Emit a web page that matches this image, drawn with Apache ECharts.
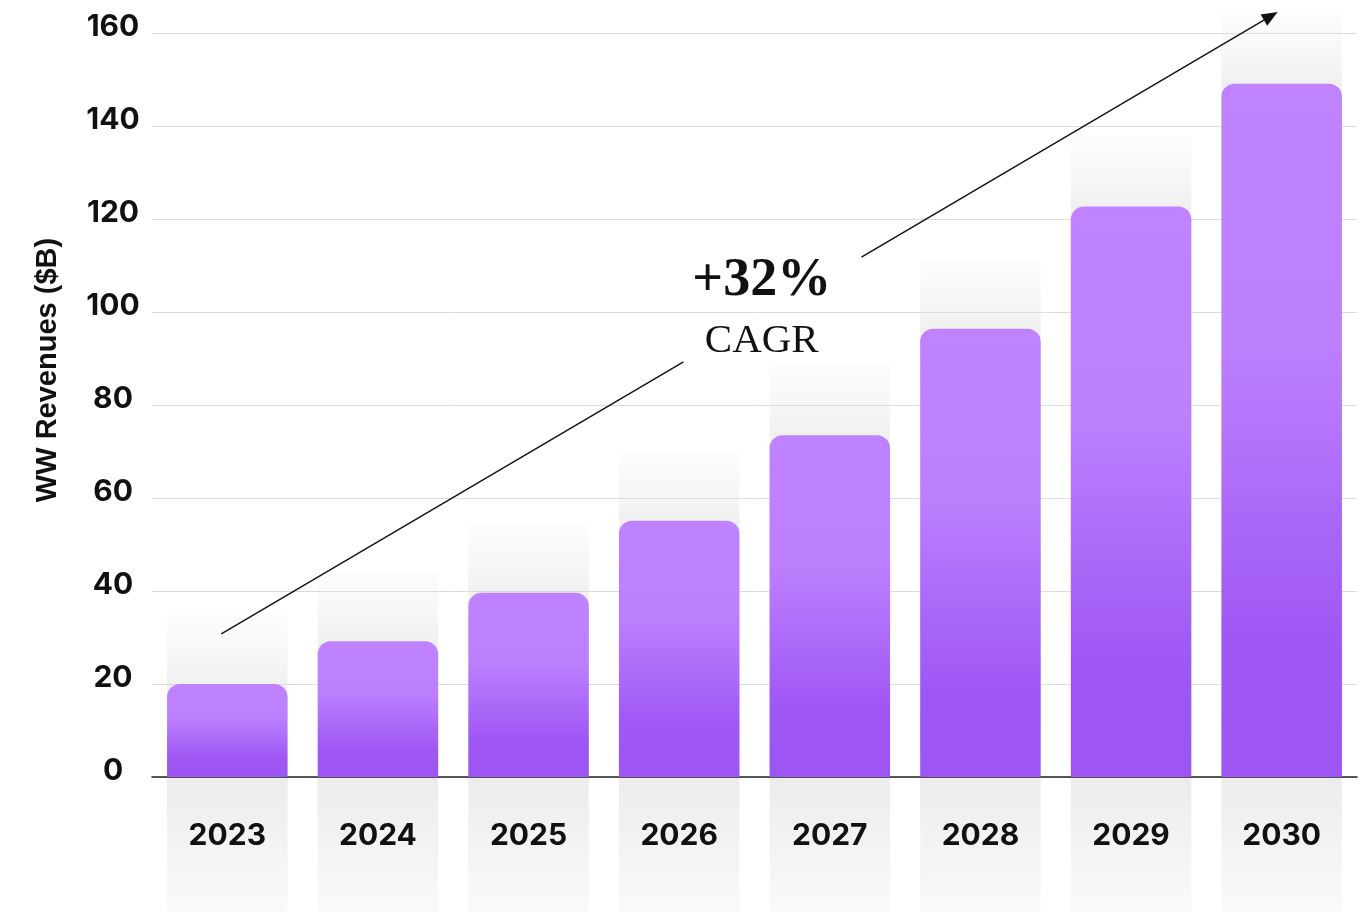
<!DOCTYPE html>
<html>
<head>
<meta charset="utf-8">
<title>WW Revenues</title>
<script src="https://cdn.jsdelivr.net/npm/echarts@6/dist/echarts.min.js"></script>
<style>
  html, body { margin: 0; padding: 0; background: #ffffff; }
  #chart { width: 1368px; height: 912px; }
</style>
</head>
<body>
<div id="chart"></div>
<script>
// Worldwide revenues by year, $B
const years = ['2023', '2024', '2025', '2026', '2027', '2028', '2029', '2030'];
const revenues = [20, 29.2, 39.6, 55.1, 73.5, 96.4, 122.7, 149.1];
const yTicks = [0, 20, 40, 60, 80, 100, 120, 140, 160];
const axisTitle = 'WW Revenues ($B)';
const cagrValue = '+32%';
const cagrLabel = 'CAGR';

// Growth arrow endpoints in data space: [category index, value]
const arrowStart = [0, 30.8];
const arrowEnd = [7, 164.5];

const BAR_RATIO = 0.8;    // bar width as a share of the category band
const HALO_EXTRA = 15;    // soft grey halo above each bar, in value units

const chart = echarts.init(document.getElementById('chart'), null, { renderer: 'canvas' });

const numFont = 'Inter, "Noto Sans", sans-serif';

const barGradient = new echarts.graphic.LinearGradient(0, 0, 0, 1, [
  { offset: 0, color: '#bf83ff' },
  { offset: 0.38, color: '#bc7ffe' },
  { offset: 0.8, color: '#9f57f4' },
  { offset: 1, color: '#9c54f3' }
]);

function renderHalo(params, api) {
  const i = api.value(0);
  const v = api.value(1);
  const base = api.coord([i, 0]);
  const top = api.coord([i, v + HALO_EXTRA]);
  const barTop = api.coord([i, v]);
  const w = api.size([1, 0])[0] * BAR_RATIO;
  const x = base[0] - w / 2;
  const bottom = api.getHeight();
  const span = base[1] - top[1];
  const stop = Math.min(1, Math.max(0, (barTop[1] - top[1]) / span));
  return {
    type: 'group',
    children: [
      {
        type: 'rect',
        shape: { x: x, y: top[1], width: w, height: span },
        style: {
          fill: new echarts.graphic.LinearGradient(0, 0, 0, 1, [
            { offset: 0, color: 'rgba(250,250,250,0.5)' },
            { offset: stop, color: '#f0f0f0' },
            { offset: 1, color: '#f0f0f0' }
          ])
        }
      },
      {
        type: 'rect',
        shape: { x: x, y: base[1], width: w, height: bottom - base[1] },
        style: {
          fill: new echarts.graphic.LinearGradient(0, 0, 0, 1, [
            { offset: 0, color: '#ececec' },
            { offset: 1, color: '#fafafa' }
          ])
        }
      }
    ]
  };
}

chart.setOption({
  animation: false,
  backgroundColor: '#ffffff',
  grid: { left: 152, right: 11, top: 33, bottom: 135, containLabel: false },
  xAxis: {
    type: 'category',
    data: years,
    z: 1,
    axisLine: { show: true, lineStyle: { color: '#222222', width: 1.6 } },
    axisTick: { show: false },
    axisLabel: {
      margin: 44,
      color: '#111111',
      fontFamily: numFont,
      fontWeight: 700,
      fontSize: 30
    },
    splitLine: { show: false }
  },
  yAxis: {
    type: 'value',
    min: yTicks[0],
    max: yTicks[yTicks.length - 1],
    interval: yTicks[1] - yTicks[0],
    z: 1,
    axisLine: { show: false },
    axisTick: { show: false },
    axisLabel: {
      margin: 39,
      align: 'center',
      verticalAlign: 'bottom',
      lineHeight: 12,
      color: '#111111',
      fontFamily: numFont,
      fontWeight: 700,
      fontSize: 30
    },
    splitLine: { show: true, lineStyle: { color: '#dcdcdc', width: 1 } }
  },
  series: [
    {
      name: 'halo',
      type: 'custom',
      z: 0,
      clip: false,
      silent: true,
      renderItem: renderHalo,
      encode: { x: 0, y: 1 },
      data: revenues.map((v, i) => [i, v])
    },
    {
      name: 'Revenue',
      type: 'bar',
      z: 2,
      barWidth: (BAR_RATIO * 100) + '%',
      itemStyle: { color: barGradient, borderRadius: [13, 13, 0, 0] },
      data: revenues
    }
  ]
});

// Growth arrow with a break for the CAGR callout, plus the rotated axis title
const p0 = chart.convertToPixel({ gridIndex: 0 }, arrowStart);
const p1 = chart.convertToPixel({ gridIndex: 0 }, arrowEnd);
p0[0] -= 6;
p1[0] -= 4;
const lerp = (t) => [p0[0] + (p1[0] - p0[0]) * t, p0[1] + (p1[1] - p0[1]) * t];
const gapA = lerp(0.4375);
const gapB = lerp(0.606);
const mid = lerp(0.522);
const ang = Math.atan2(p1[1] - p0[1], p1[0] - p0[0]);
const headLen = 16, headHalf = 6.5;
const hb = [p1[0] - headLen * Math.cos(ang), p1[1] - headLen * Math.sin(ang)];
const head = [
  p1,
  [hb[0] + headHalf * Math.sin(ang), hb[1] - headHalf * Math.cos(ang)],
  [hb[0] - headHalf * Math.sin(ang), hb[1] + headHalf * Math.cos(ang)]
];
const lineStyle = { stroke: '#111111', lineWidth: 1.4 };

chart.setOption({
  graphic: [
    { type: 'line', z: 10, shape: { x1: p0[0], y1: p0[1], x2: gapA[0], y2: gapA[1] }, style: lineStyle },
    { type: 'line', z: 10, shape: { x1: gapB[0], y1: gapB[1], x2: hb[0], y2: hb[1] }, style: lineStyle },
    { type: 'polygon', z: 10, shape: { points: head }, style: { fill: '#111111' } },
    {
      type: 'text', z: 10,
      x: mid[0] - 11, y: mid[1] - 28,
      style: {
        text: cagrValue, fill: '#111111',
        font: 'bold 54px "Liberation Serif", "DejaVu Serif", serif',
        align: 'center', verticalAlign: 'middle'
      }
    },
    {
      type: 'text', z: 10,
      x: mid[0] - 11, y: mid[1] + 32,
      style: {
        text: cagrLabel, fill: '#111111',
        font: '41px "Liberation Serif", "DejaVu Serif", serif',
        align: 'center', verticalAlign: 'middle'
      }
    },
    {
      type: 'text', z: 10,
      x: 48, y: 370, rotation: Math.PI / 2,
      style: {
        text: axisTitle, fill: '#111111',
        font: 'bold 29px "Liberation Sans", Arial, sans-serif',
        align: 'center', verticalAlign: 'middle'
      }
    }
  ]
});
</script>
</body>
</html>
